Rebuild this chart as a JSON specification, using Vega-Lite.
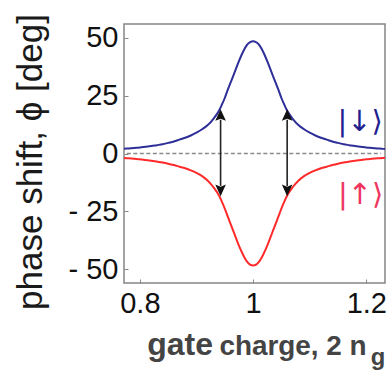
{
  "$schema": "https://vega.github.io/schema/vega-lite/v6.json",
  "width": 261,
  "height": 259,
  "autosize": {"type": "none"},
  "padding": {"left": 124, "top": 24, "right": 4, "bottom": 91},
  "background": "white",
  "config": {
    "view": {"stroke": "#858585", "strokeWidth": 1.5},
    "font": "Liberation Sans",
    "axis": {"domain": false, "grid": false, "labelFont": "Liberation Sans", "labelFontSize": 29, "labelColor": "#111111", "tickColor": "#888888", "tickSize": -4, "tickWidth": 1}
  },
  "datasets": {
    "curves": [
      {"x": 0.76, "y": 1.85, "s": "down"}, {"x": 0.77, "y": 2.0, "s": "down"}, {"x": 0.78, "y": 2.2, "s": "down"}, {"x": 0.79, "y": 2.4, "s": "down"}, {"x": 0.80, "y": 2.6, "s": "down"}, {"x": 0.81, "y": 2.9, "s": "down"}, {"x": 0.82, "y": 3.2, "s": "down"}, {"x": 0.83, "y": 3.6, "s": "down"}, {"x": 0.84, "y": 4.0, "s": "down"}, {"x": 0.85, "y": 4.6, "s": "down"}, {"x": 0.86, "y": 5.2, "s": "down"}, {"x": 0.87, "y": 6.0, "s": "down"}, {"x": 0.88, "y": 6.8, "s": "down"}, {"x": 0.89, "y": 7.8, "s": "down"}, {"x": 0.90, "y": 9.0, "s": "down"}, {"x": 0.91, "y": 10.5, "s": "down"}, {"x": 0.92, "y": 12.3, "s": "down"}, {"x": 0.93, "y": 15.0, "s": "down"}, {"x": 0.94, "y": 18.6, "s": "down"}, {"x": 0.945, "y": 21.2, "s": "down"}, {"x": 0.95, "y": 24.0, "s": "down"}, {"x": 0.955, "y": 27.4, "s": "down"}, {"x": 0.96, "y": 30.5, "s": "down"}, {"x": 0.965, "y": 33.6, "s": "down"}, {"x": 0.97, "y": 36.8, "s": "down"}, {"x": 0.975, "y": 39.9, "s": "down"}, {"x": 0.98, "y": 42.8, "s": "down"}, {"x": 0.985, "y": 45.3, "s": "down"}, {"x": 0.99, "y": 47.2, "s": "down"}, {"x": 0.995, "y": 48.2, "s": "down"}, {"x": 1.0, "y": 48.5, "s": "down"},
      {"x": 1.005, "y": 48.2, "s": "down"}, {"x": 1.01, "y": 47.2, "s": "down"}, {"x": 1.015, "y": 45.3, "s": "down"}, {"x": 1.02, "y": 42.8, "s": "down"}, {"x": 1.025, "y": 39.9, "s": "down"}, {"x": 1.03, "y": 36.8, "s": "down"}, {"x": 1.035, "y": 33.6, "s": "down"}, {"x": 1.04, "y": 30.5, "s": "down"}, {"x": 1.045, "y": 27.4, "s": "down"}, {"x": 1.05, "y": 24.0, "s": "down"}, {"x": 1.055, "y": 21.2, "s": "down"}, {"x": 1.06, "y": 18.6, "s": "down"}, {"x": 1.07, "y": 15.0, "s": "down"}, {"x": 1.08, "y": 12.3, "s": "down"}, {"x": 1.09, "y": 10.5, "s": "down"}, {"x": 1.10, "y": 9.0, "s": "down"}, {"x": 1.11, "y": 7.8, "s": "down"}, {"x": 1.12, "y": 6.8, "s": "down"}, {"x": 1.13, "y": 6.0, "s": "down"}, {"x": 1.14, "y": 5.2, "s": "down"}, {"x": 1.15, "y": 4.6, "s": "down"}, {"x": 1.16, "y": 4.0, "s": "down"}, {"x": 1.17, "y": 3.6, "s": "down"}, {"x": 1.18, "y": 3.2, "s": "down"}, {"x": 1.19, "y": 2.9, "s": "down"}, {"x": 1.20, "y": 2.6, "s": "down"}, {"x": 1.21, "y": 2.4, "s": "down"}, {"x": 1.22, "y": 2.2, "s": "down"}, {"x": 1.23, "y": 2.0, "s": "down"}, {"x": 1.24, "y": 1.85, "s": "down"},
      {"x": 0.76, "y": -1.75, "s": "up"}, {"x": 0.77, "y": -1.9, "s": "up"}, {"x": 0.78, "y": -2.1, "s": "up"}, {"x": 0.79, "y": -2.3, "s": "up"}, {"x": 0.80, "y": -2.5, "s": "up"}, {"x": 0.81, "y": -2.8, "s": "up"}, {"x": 0.82, "y": -3.1, "s": "up"}, {"x": 0.83, "y": -3.5, "s": "up"}, {"x": 0.84, "y": -3.9, "s": "up"}, {"x": 0.85, "y": -4.4, "s": "up"}, {"x": 0.86, "y": -5.0, "s": "up"}, {"x": 0.87, "y": -5.7, "s": "up"}, {"x": 0.88, "y": -6.4, "s": "up"}, {"x": 0.89, "y": -7.3, "s": "up"}, {"x": 0.90, "y": -8.4, "s": "up"}, {"x": 0.91, "y": -9.8, "s": "up"}, {"x": 0.92, "y": -11.8, "s": "up"}, {"x": 0.93, "y": -14.6, "s": "up"}, {"x": 0.94, "y": -18.3, "s": "up"}, {"x": 0.945, "y": -20.9, "s": "up"}, {"x": 0.95, "y": -23.8, "s": "up"}, {"x": 0.955, "y": -27.1, "s": "up"}, {"x": 0.96, "y": -30.3, "s": "up"}, {"x": 0.965, "y": -33.5, "s": "up"}, {"x": 0.97, "y": -36.7, "s": "up"}, {"x": 0.975, "y": -39.8, "s": "up"}, {"x": 0.98, "y": -42.6, "s": "up"}, {"x": 0.985, "y": -45.1, "s": "up"}, {"x": 0.99, "y": -47.0, "s": "up"}, {"x": 0.995, "y": -48.1, "s": "up"}, {"x": 1.0, "y": -48.4, "s": "up"},
      {"x": 1.005, "y": -48.1, "s": "up"}, {"x": 1.01, "y": -47.0, "s": "up"}, {"x": 1.015, "y": -45.1, "s": "up"}, {"x": 1.02, "y": -42.6, "s": "up"}, {"x": 1.025, "y": -39.8, "s": "up"}, {"x": 1.03, "y": -36.7, "s": "up"}, {"x": 1.035, "y": -33.5, "s": "up"}, {"x": 1.04, "y": -30.3, "s": "up"}, {"x": 1.045, "y": -27.1, "s": "up"}, {"x": 1.05, "y": -23.8, "s": "up"}, {"x": 1.055, "y": -20.9, "s": "up"}, {"x": 1.06, "y": -18.3, "s": "up"}, {"x": 1.07, "y": -14.6, "s": "up"}, {"x": 1.08, "y": -11.8, "s": "up"}, {"x": 1.09, "y": -9.8, "s": "up"}, {"x": 1.10, "y": -8.4, "s": "up"}, {"x": 1.11, "y": -7.3, "s": "up"}, {"x": 1.12, "y": -6.4, "s": "up"}, {"x": 1.13, "y": -5.7, "s": "up"}, {"x": 1.14, "y": -5.0, "s": "up"}, {"x": 1.15, "y": -4.4, "s": "up"}, {"x": 1.16, "y": -3.9, "s": "up"}, {"x": 1.17, "y": -3.5, "s": "up"}, {"x": 1.18, "y": -3.1, "s": "up"}, {"x": 1.19, "y": -2.8, "s": "up"}, {"x": 1.20, "y": -2.5, "s": "up"}, {"x": 1.21, "y": -2.3, "s": "up"}, {"x": 1.22, "y": -2.1, "s": "up"}, {"x": 1.23, "y": -1.9, "s": "up"}, {"x": 1.24, "y": -1.75, "s": "up"}
    ],
    "arrows": [
      {"x": 0.9426, "y": -14.0, "y2": 14.6},
      {"x": 1.0602, "y": -14.0, "y2": 14.6}
    ],
    "heads": [
      {"x": 0.9426, "y": 14.6, "d": "up"},
      {"x": 0.9426, "y": -13.9, "d": "down"},
      {"x": 1.0602, "y": 14.6, "d": "up"},
      {"x": 1.0602, "y": -13.9, "d": "down"}
    ],
    "states": [
      {"x": 1.189, "y": 13.7, "t": "|↓⟩", "s": "label down"},
      {"x": 1.190, "y": -17.9, "t": "|↑⟩", "s": "label up"}
    ],
    "xtitle": [
      {"x": 0.9292, "y": -87.1, "t": "gate", "k": "a"},
      {"x": 1.2006, "y": -87.1, "t": "charge, 2 n", "k": "b"},
      {"x": 1.2335, "y": -91.5, "t": "g", "k": "c"}
    ],
    "zero": [{"x": 0.777, "x2": 1.226, "y": 0}]
  },
  "layer": [
    {
      "data": {"name": "zero"},
      "mark": {"type": "rule", "color": "#8a8a8a", "strokeWidth": 1.5, "strokeDash": [4, 2.5]},
      "encoding": {
        "x": {"field": "x", "type": "quantitative", "scale": {"domain": [0.772, 1.233], "nice": false, "zero": false},
              "axis": {"values": [0.8, 1, 1.2], "format": "~g", "title": null, "labelPadding": 10}},
        "x2": {"field": "x2"},
        "y": {"field": "y", "type": "quantitative", "scale": {"domain": [-56, 56], "nice": false},
              "axis": {"values": [-50, -25, 0, 25, 50], "labelExpr": "datum.value < 0 ? '- ' + abs(datum.value) : '' + datum.value",
                       "labelPadding": 10, "title": "phase shift, ϕ [deg]", "titleFont": "Liberation Sans", "titleFontSize": 35, "titleFontWeight": "normal", "titleColor": "#1a1a1a",
                       "titleAngle": -90, "titleX": -83, "titleY": 137.5, "titleAlign": "center", "titleBaseline": "alphabetic"}}
      }
    },
    {
      "data": {"name": "curves"},
      "mark": {"type": "line", "strokeWidth": 2, "clip": true, "interpolate": "monotone"},
      "encoding": {
        "x": {"field": "x", "type": "quantitative"},
        "y": {"field": "y", "type": "quantitative"},
        "color": {"field": "s", "type": "nominal", "scale": {"domain": ["down", "up", "label down", "label up"], "range": ["#2e2e98", "#ff2a2a", "#1f1f8f", "#ee3560"]}, "legend": null}
      }
    },
    {
      "data": {"name": "arrows"},
      "mark": {"type": "rule", "color": "#222222", "strokeWidth": 1.6},
      "encoding": {
        "x": {"field": "x", "type": "quantitative"},
        "y": {"field": "y", "type": "quantitative"},
        "y2": {"field": "y2"}
      }
    },
    {
      "data": {"name": "heads"},
      "mark": {"type": "point", "filled": true, "opacity": 1, "size": 450, "color": "#111111"},
      "encoding": {
        "x": {"field": "x", "type": "quantitative"},
        "y": {"field": "y", "type": "quantitative"},
        "shape": {"field": "d", "type": "nominal", "legend": null,
                  "scale": {"domain": ["up", "down"], "range": ["M0,-1L0.5,0.1L0,-0.1L-0.5,0.1Z", "M0,1L0.5,-0.1L0,0.1L-0.5,-0.1Z"]}}
      }
    },
    {
      "data": {"name": "states"},
      "mark": {"type": "text", "font": "DejaVu Sans", "fontSize": 29, "align": "center", "baseline": "middle"},
      "encoding": {
        "x": {"field": "x", "type": "quantitative"},
        "y": {"field": "y", "type": "quantitative"},
        "text": {"field": "t"},
        "color": {"field": "s", "type": "nominal", "legend": null}
      }
    },
    {
      "data": {"name": "xtitle"},
      "mark": {"type": "text", "font": "Liberation Sans", "fontWeight": "bold", "align": "right", "baseline": "alphabetic", "color": "#444444"},
      "encoding": {
        "x": {"field": "x", "type": "quantitative"},
        "y": {"field": "y", "type": "quantitative"},
        "text": {"field": "t"},
        "size": {"field": "k", "type": "ordinal", "legend": null, "scale": {"domain": ["a", "b", "c"], "range": [32, 23.8, 17]}}
      }
    }
  ]
}
